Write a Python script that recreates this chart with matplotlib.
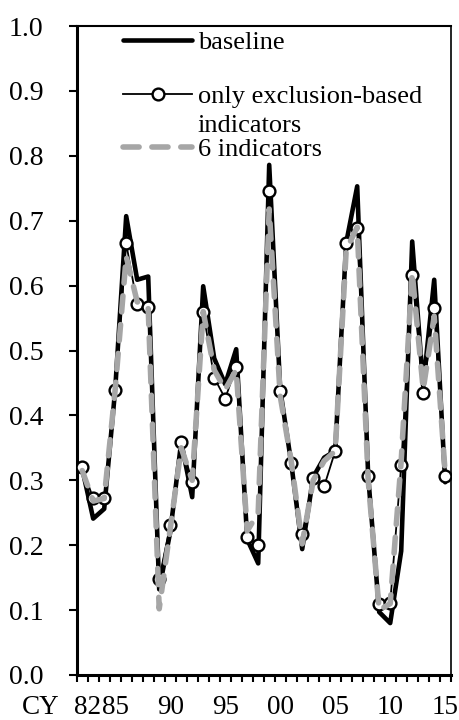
import matplotlib
matplotlib.use("Agg")
import matplotlib.pyplot as plt
import matplotlib.transforms as mtransforms
import numpy as np

plt.rcParams["font.family"] = ["Liberation Serif", "DejaVu Serif"]

years = np.arange(1982, 2016)
baseline = [0.318, 0.241, 0.256, 0.440, 0.707, 0.609, 0.614, 0.132, 0.220, 0.359,
            0.274, 0.599, 0.488, 0.448, 0.502, 0.209, 0.172, 0.786, 0.440, 0.327,
            0.194, 0.305, 0.335, 0.345, 0.666, 0.753, 0.306, 0.097, 0.080, 0.191,
            0.668, 0.445, 0.609, 0.297]
exclusion = [0.320, 0.272, 0.273, 0.439, 0.665, 0.571, 0.567, 0.148, 0.231, 0.359,
             0.297, 0.560, 0.458, 0.426, 0.475, 0.212, 0.200, 0.745, 0.438, 0.327,
             0.217, 0.304, 0.291, 0.345, 0.666, 0.689, 0.306, 0.109, 0.111, 0.323,
             0.617, 0.435, 0.566, 0.306]
six_ind = [0.315, 0.268, 0.272, 0.440, 0.645, 0.575, 0.565, 0.102, 0.225, 0.350,
           0.300, 0.560, 0.470, 0.440, 0.470, 0.222, 0.250, 0.718, 0.430, 0.330,
           0.202, 0.300, 0.330, 0.345, 0.655, 0.690, 0.300, 0.100, 0.110, 0.330,
           0.620, 0.440, 0.553, 0.310]

label_years = [1982, 1985, 1990, 1995, 2000, 2005, 2010, 2015]
label_text = ["82", "85", "90", "95", "00", "05", "10", "15"]
y_ticks = np.round(np.arange(0, 1.01, 0.1), 1)

fig = plt.figure(figsize=(4.6, 7.2), dpi=100)
ax = fig.add_axes([76.7 / 460, 45 / 720, 374 / 460, 649 / 720])

ax.plot(years, baseline, color="black", lw=3.3, solid_joinstyle="round",
        solid_capstyle="round", zorder=2)
ax.plot(years, exclusion, color="black", lw=1.3, marker="o", ms=8.5,
        mfc="white", mec="black", mew=1.7, zorder=3)
ax.plot(years, six_ind, color="#a6a6a6", lw=4.0, dashes=(2.9, 2.3),
        dash_capstyle="round", zorder=4)

ax.set_xlim(1981.5, 2015.5)
ax.set_ylim(0, 1.0)
ax.set_yticks(y_ticks, labels=[f"{v:.1f}" for v in y_ticks])
ax.set_xticks(label_years, labels=label_text)
ax.set_xticks(np.arange(1981.5, 2016), minor=True)
ax.tick_params(axis="x", which="major", length=0, pad=14.5, labelsize=19.5)
ax.tick_params(axis="x", which="minor", direction="out", length=5, width=1.5)
ax.tick_params(axis="y", direction="out", length=6, width=1.5, pad=18, labelsize=20)

# first label sits a bit to the right, "CY" in front of it
lab0 = ax.get_xticklabels()[0]
lab0.set_transform(lab0.get_transform() + mtransforms.ScaledTranslation(4 / 72, 0, fig.dpi_scale_trans))
ax.text(-0.097, 0, "CY", fontsize=19.5, ha="center", va="top",
        transform=ax.transAxes + mtransforms.ScaledTranslation(0, -14.5 / 72, fig.dpi_scale_trans))

ax.spines["left"].set_linewidth(2.2)
ax.spines["bottom"].set_linewidth(2.2)
ax.spines["top"].set_linewidth(1.5)
ax.spines["right"].set_linewidth(1.2)

# legend entries, Excel style
fs = 19
kw = dict(loc="center left", frameon=False, fontsize=fs, handlelength=2.6,
          handletextpad=0.22, borderpad=0, borderaxespad=0)
l1 = ax.legend(ax.lines[:1], ["baseline"], bbox_to_anchor=(0.125, 0.975), **kw)
ax.add_artist(l1)
l2 = ax.legend(ax.lines[1:2], ["only exclusion-based"], bbox_to_anchor=(0.125, 0.892), **kw)
ax.add_artist(l2)
ax.text(0.324, 0.846, "indicators", fontsize=fs, ha="left", va="center", transform=ax.transAxes)
l3 = ax.legend(ax.lines[2:3], ["6 indicators"], bbox_to_anchor=(0.125, 0.81), **kw)

fig.savefig("out.png", dpi=100)
